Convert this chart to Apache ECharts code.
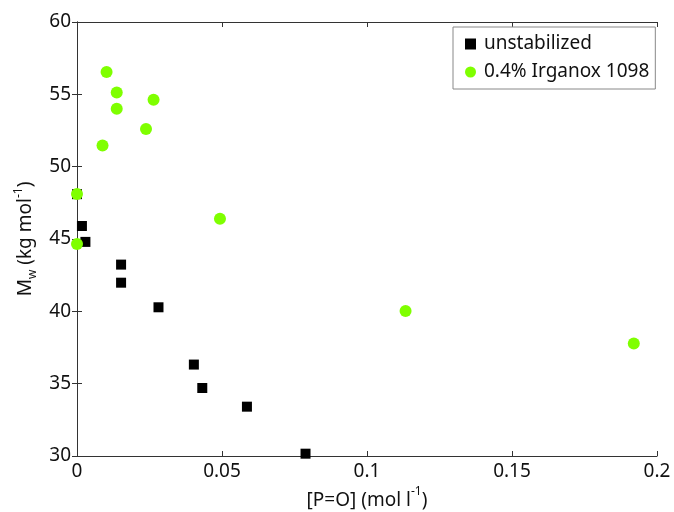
<!DOCTYPE html>
<html>
<head>
<meta charset="utf-8">
<script src="https://cdn.jsdelivr.net/npm/echarts@6/dist/echarts.min.js"></script>
<style>html,body{margin:0;padding:0;background:#fff}#c{width:674px;height:512px}</style>
</head>
<body>
<div id="c"></div>
<script>
// Data
const unstabX = [0.0, 0.0017, 0.0029, 0.0152, 0.0152, 0.0281, 0.0403, 0.0432, 0.0586, 0.0788];
const unstabY = [48.1, 45.9, 44.8, 43.23, 41.98, 40.28, 36.32, 34.7, 33.41, 30.16];
const irgX = [0.0102, 0.0137, 0.0137, 0.0264, 0.0238, 0.0088, 0.0, 0.0, 0.0493, 0.1133, 0.192];
const irgY = [56.54, 55.13, 54.0, 54.63, 52.6, 51.47, 48.11, 44.66, 46.4, 40.03, 37.77];
const seriesNames = ['unstabilized', '0.4% Irganox 1098'];
const xTicks = [0, 0.05, 0.1, 0.15, 0.2];
const yTicks = [30, 35, 40, 45, 50, 55, 60];

const zip = (xs, ys) => xs.map((x, i) => [x, ys[i]]);
const font = 'Noto Sans';
const axisColor = '#333';
const fs = 19;

const chart = echarts.init(document.getElementById('c'), null, {renderer: 'canvas'});
const baseAxis = {
  axisLine: {show: true, lineStyle: {color: axisColor, width: 1}},
  axisTick: {show: true, inside: true, length: 5, lineStyle: {color: axisColor}},
  splitLine: {show: false},
};
chart.setOption({
  animation: false,
  backgroundColor: '#fff',
  grid: {left: 77, right: 17, top: 22, bottom: 56, containLabel: false, outerBoundsMode: 'none'},
  xAxis: [
    Object.assign({}, baseAxis, {
      type: 'value', min: xTicks[0], max: xTicks[xTicks.length - 1], interval: 0.05,
      axisLabel: {color: '#111', fontFamily: font, fontSize: fs, margin: 6,
        formatter: v => String(+v.toFixed(2))},
      name: '{a|[P=O] (mol l}{sup|-1}{a|)}', nameLocation: 'middle', nameGap: 30,
      nameTextStyle: {rich: {
        a: {fontFamily: font, fontSize: fs, color: '#111', lineHeight: 24, verticalAlign: 'bottom'},
        sup: {fontFamily: font, fontSize: 12, color: '#111', lineHeight: 24, verticalAlign: 'top'}
      }}
    }),
    Object.assign({}, baseAxis, {
      type: 'value', position: 'top', min: 0, max: 0.2, interval: 0.05,
      axisLabel: {show: false}
    })
  ],
  yAxis: [
    Object.assign({}, baseAxis, {
      type: 'value', min: yTicks[0], max: yTicks[yTicks.length - 1], interval: 5,
      axisLabel: {color: '#111', fontFamily: font, fontSize: fs, margin: 6},
      name: '{a|M}{sub|w}{a| (kg mol}{sup|-1}{a|)}', nameLocation: 'middle', nameGap: 30, nameRotate: 90,
      nameTextStyle: {rich: {
        a: {fontFamily: font, fontSize: fs, color: '#111', lineHeight: 26, verticalAlign: 'middle'},
        sub: {fontFamily: font, fontSize: 12, color: '#111', lineHeight: 26, verticalAlign: 'bottom'},
        sup: {fontFamily: font, fontSize: 12, color: '#111', lineHeight: 26, verticalAlign: 'top'}
      }}
    }),
    Object.assign({}, baseAxis, {
      type: 'value', position: 'right', min: 30, max: 60, interval: 5,
      axisLabel: {show: false}
    })
  ],
  legend: {
    orient: 'vertical', left: 453, top: 27,
    padding: [5, 6, 5, 12], itemGap: 4, itemWidth: 11, itemHeight: 11,
    backgroundColor: '#fff', borderColor: '#888', borderWidth: 1,
    textStyle: {fontFamily: font, fontSize: fs, color: '#111', lineHeight: 24, padding: [0, 0, 0, 3]},
    data: [{name: seriesNames[0], icon: 'rect'}, {name: seriesNames[1], icon: 'circle'}]
  },
  series: [
    {name: seriesNames[0], type: 'scatter', symbol: 'rect', symbolSize: 10, clip: false,
     itemStyle: {color: '#000', opacity: 1}, data: zip(unstabX, unstabY)},
    {name: seriesNames[1], type: 'scatter', symbol: 'circle', symbolSize: 12, clip: false,
     itemStyle: {color: '#7fff00', opacity: 1}, data: zip(irgX, irgY)}
  ]
});
</script>
</body>
</html>
